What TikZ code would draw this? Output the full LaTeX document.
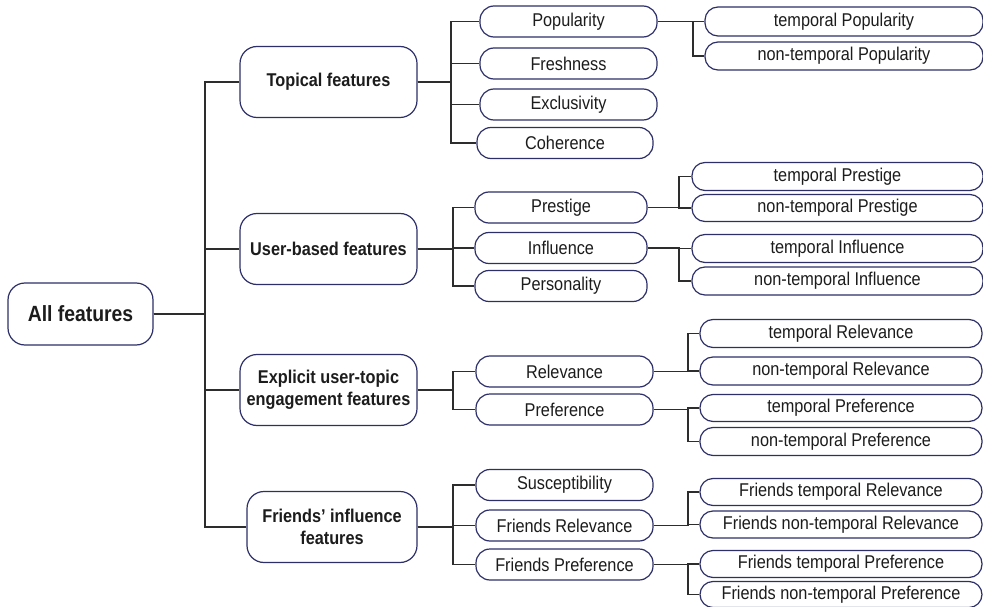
\documentclass[tikz,border=0pt]{standalone}
\usepackage{fontspec}
\setmainfont{Liberation Sans}[FakeStretch=0.88]
\definecolor{boxc}{RGB}{45,47,105}
\definecolor{linec}{RGB}{45,45,45}
\definecolor{txtc}{RGB}{28,28,28}
\tikzset{
  box/.style={draw=boxc, line width=1.2pt, rounded corners=14pt, inner sep=0pt, text=txtc,
    font=\fontsize{18.5}{22}\selectfont, align=center, fill=white},
  topbox/.style={box, rounded corners=17pt, font=\bfseries\fontsize{18.5}{22}\selectfont,
    minimum width=177pt, minimum height=71pt},
  midbox/.style={box, minimum height=31pt},
  leafbox/.style={box, rounded corners=13pt, minimum height=28pt},
  wire/.style={draw=linec, line width=1.2pt}
}
\begin{document}
\begin{tikzpicture}[x=1pt,y=-1pt]
\useasboundingbox (0,0) rectangle (983,607);
\clip (0,0) rectangle (983,607);
% root
\node[box, rounded corners=17pt, font=\bfseries\fontsize{22}{24}\selectfont, minimum width=145pt, minimum height=62pt] (all) at (80.5,314) {All features};
% level 1
\node[topbox] (top) at (328.5,82) {Topical features};
\node[topbox] (usr) at (328.5,249) {User-based features};
\node[topbox] (exp) at (328.5,390) {Explicit user-topic\\engagement features};
\node[topbox, minimum width=170pt] (fri) at (332,527) {Friends’ influence\\features};
% level 2
\node[midbox, minimum width=177pt] (pop) at (568.5,21.5) {Popularity};
\node[midbox, minimum width=177pt] (fre) at (568.5,63.5) {Freshness};
\node[midbox, minimum width=177pt] (exc) at (568.5,104.5) {Exclusivity};
\node[midbox, minimum width=176pt] (coh) at (565,143) {Coherence};
\node[midbox, minimum width=172pt] (pre) at (561,207.5) {Prestige};
\node[midbox, minimum width=172pt] (inf) at (561,248) {Influence};
\node[midbox, minimum width=172pt] (per) at (561,286) {Personality};
\node[midbox, minimum width=177pt] (rel) at (564.5,371.5) {Relevance};
\node[midbox, minimum width=177pt] (prf) at (564.5,409.5) {Preference};
\node[midbox, minimum width=177pt] (sus) at (564.5,485) {Susceptibility};
\node[midbox, minimum width=177pt] (frel) at (564.5,525.5) {Friends Relevance};
\node[midbox, minimum width=177pt] (fprf) at (564.5,564.5) {Friends Preference};
% level 3
\node[leafbox, minimum width=278pt, minimum height=29pt] (tpop) at (844,21.5) {temporal Popularity};
\node[leafbox, minimum width=278pt] (npop) at (844,56) {non-temporal Popularity};
\node[leafbox, minimum width=291pt] (tpre) at (837.5,176.5) {temporal Prestige};
\node[leafbox, minimum width=291pt, minimum height=27pt] (npre) at (837.5,208) {non-temporal Prestige};
\node[leafbox, minimum width=291pt] (tinf) at (837.5,248.5) {temporal Influence};
\node[leafbox, minimum width=291pt] (ninf) at (837.5,281) {non-temporal Influence};
\node[leafbox, minimum width=282pt] (trel) at (841,333.5) {temporal Relevance};
\node[leafbox, minimum width=282pt] (nrel) at (841,371) {non-temporal Relevance};
\node[leafbox, minimum width=282pt, minimum height=27pt] (tprf) at (841,408) {temporal Preference};
\node[leafbox, minimum width=282pt] (nprf) at (841,441.5) {non-temporal Preference};
\node[leafbox, minimum width=282pt, minimum height=27pt] (ftrel) at (841,492) {Friends temporal Relevance};
\node[leafbox, minimum width=282pt, minimum height=27pt] (fnrel) at (841,524.5) {Friends non-temporal Relevance};
\node[leafbox, minimum width=282pt, minimum height=27pt] (ftprf) at (841,564) {Friends temporal Preference};
\node[leafbox, minimum width=282pt, minimum height=26pt] (fnprf) at (841,594.5) {Friends non-temporal Preference};
% bus coordinates
\coordinate (b0) at (205,0);
\coordinate (b1) at (451,0);
\coordinate (b1u) at (453,0);
\coordinate (b2t) at (693,0);
\coordinate (b2u) at (679,0);
\coordinate (b2e) at (688,0);
% wires
\foreach \c in {top,usr,exp,fri}
  \draw[wire] (all.east) -- (all.east -| b0) |- (\c.west);
\foreach \c in {pop,fre,exc,coh}
  \draw[wire] (top.east) -- (top.east -| b1) |- (\c.west);
\foreach \c in {pre,inf,per}
  \draw[wire] (usr.east) -- (usr.east -| b1u) |- (\c.west);
\foreach \c in {rel,prf}
  \draw[wire] (exp.east) -- (exp.east -| b1u) |- (\c.west);
\foreach \c in {sus,frel,fprf}
  \draw[wire] (fri.east) -- (fri.east -| b1u) |- (\c.west);
\foreach \c in {tpop,npop}
  \draw[wire] (pop.east) -- (pop.east -| b2t) |- (\c.west);
\foreach \c in {tpre,npre}
  \draw[wire] (pre.east) -- (pre.east -| b2u) |- (\c.west);
\foreach \c in {tinf,ninf}
  \draw[wire] (inf.east) -- (inf.east -| b2u) |- (\c.west);
\foreach \c in {trel,nrel}
  \draw[wire] (rel.east) -- (rel.east -| b2e) |- (\c.west);
\foreach \c in {tprf,nprf}
  \draw[wire] (prf.east) -- (prf.east -| b2e) |- (\c.west);
\foreach \c in {ftrel,fnrel}
  \draw[wire] (frel.east) -- (frel.east -| b2e) |- (\c.west);
\foreach \c in {ftprf,fnprf}
  \draw[wire] (fprf.east) -- (fprf.east -| b2e) |- (\c.west);
\end{tikzpicture}
\end{document}
